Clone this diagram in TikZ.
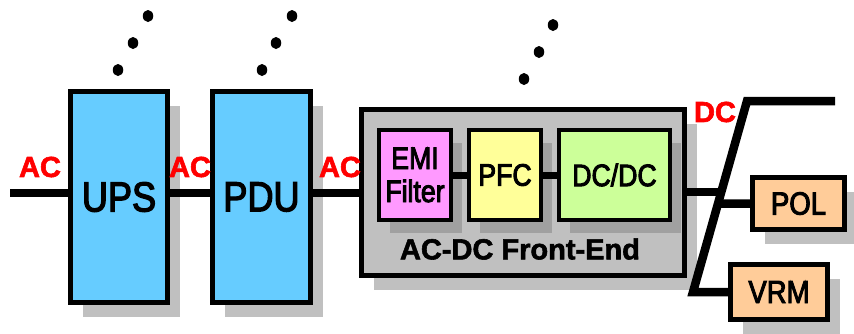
\documentclass[tikz,border=0pt]{standalone}
\usepackage{fontspec}
\setmainfont{Liberation Sans}
\newfontfamily\blocksf[FakeStretch=0.86, FakeBold=3]{Liberation Sans}
\newfontfamily\heavysf[FakeBold=2]{Liberation Sans Bold}
\usetikzlibrary{shadows,shapes.geometric,calc}

\definecolor{upsblue}{HTML}{66CCFF}
\definecolor{emipink}{HTML}{FF99FF}
\definecolor{pfcyellow}{HTML}{FFFF99}
\definecolor{dcgreen}{HTML}{CCFF99}
\definecolor{loadorange}{HTML}{FFCC99}
\definecolor{panelgray}{HTML}{C0C0C0}
\definecolor{innershade}{HTML}{A0A0A0}
\definecolor{labelred}{HTML}{FF0000}

\tikzset{
  block/.style={draw=black, line width=5pt, inner sep=0pt, outer sep=0pt,
    drop shadow={shadow xshift=12pt, shadow yshift=-14pt, fill=panelgray, opacity=1}},
  bigblock/.style={block, fill=upsblue, font=\blocksf\fontsize{42}{42}\selectfont},
  subblock/.style={draw=black, line width=4pt, inner sep=0pt, outer sep=0pt,
    align=center, font=\blocksf\fontsize{31}{33}\selectfont,
    drop shadow={shadow xshift=11pt, shadow yshift=-13pt, fill=innershade, opacity=1}},
  loadblock/.style={block, fill=loadorange, font=\blocksf\fontsize{32}{32}\selectfont},
  wire/.style={line width=8.5pt, line join=miter, draw=black},
  thinwire/.style={line width=7pt, draw=black},
  buslabel/.style={text=labelred, inner sep=0pt, font=\heavysf\fontsize{29}{29}\selectfont},
  dot/.style={ellipse, fill=black, inner sep=0pt, minimum width=10.5pt, minimum height=12pt}
}

\begin{document}
\begin{tikzpicture}[x=1pt, y=-1pt]
  \path[use as bounding box, fill=white] (0,0) rectangle (854,333);

  % rack-level chain
  \node[bigblock, minimum width=97pt, minimum height=211pt] (ups) at (119,197) {UPS};
  \node[bigblock, minimum width=98pt, minimum height=211pt] (pdu) at (261.5,197) {PDU};

  % front-end enclosure with its three stages
  \node[block, fill=panelgray, minimum width=323pt, minimum height=166pt] (fe) at (523,192.5) {};
  \node[subblock, fill=emipink, minimum width=72pt, minimum height=90pt] (emi) at (415,175) {EMI\\Filter};
  \node[subblock, fill=pfcyellow, minimum width=72pt, minimum height=90pt] (pfc) at (505,175) {PFC};
  \node[subblock, fill=dcgreen, minimum width=111pt, minimum height=90pt] (dcdc) at (614.5,175) {DC/DC};
  \node[inner sep=0pt, font=\heavysf\fontsize{29}{29}\selectfont] (fetitle) at (520,249) {AC-DC Front-End};

  % loads on the DC bus
  \node[loadblock, minimum width=92pt, minimum height=52pt] (pol) at (798.5,203.5) {POL};
  \node[loadblock, minimum width=97pt, minimum height=55pt] (vrm) at (779,292) {VRM};

  % continuation dots
  \node[dot] (u1) at (148,16) {};
  \node[dot] (u2) at (133,43) {};
  \node[dot] (u3) at (118,70) {};
  \node[dot] (p1) at (292,16) {};
  \node[dot] (p2) at (276,43) {};
  \node[dot] (p3) at (262,70) {};
  \node[dot] (f1) at (553,25) {};
  \node[dot] (f2) at (539,52) {};
  \node[dot] (f3) at (524,79) {};

  % AC feed
  \coordinate (acin) at (10,193);
  \draw[wire] (acin) -- (acin -| ups.west);
  \draw[wire] (acin -| ups.east) -- (acin -| pdu.west);
  \draw[wire] (acin -| pdu.east) -- (acin -| fe.west);

  % internal stage links
  \draw[thinwire] (emi.east) -- (pfc.west);
  \draw[thinwire] (pfc.east) -- (dcdc.west);

  % DC bus
  \coordinate (busend) at (835,101);
  \coordinate (bustop) at (747,101);
  \coordinate (busbot) at (693,292);
  \draw[wire] (busend) -- (bustop) -- (busbot) -- (vrm.west);
  \coordinate (feout) at ($(bustop)!0.476!(busbot)$);
  \draw[wire] (fe.east |- feout) -- (feout);
  \coordinate (poltap) at ($(bustop)!0.537!(busbot)$);
  \draw[wire] (poltap) -- (pol.west);

  % bus labels
  \node[buslabel] (ac1) at (40,167) {AC};
  \node[buslabel] (ac2) at (190,167) {AC};
  \node[buslabel] (ac3) at (340,167) {AC};
  \node[buslabel] (dc) at (715,112) {DC};
\end{tikzpicture}
\end{document}
